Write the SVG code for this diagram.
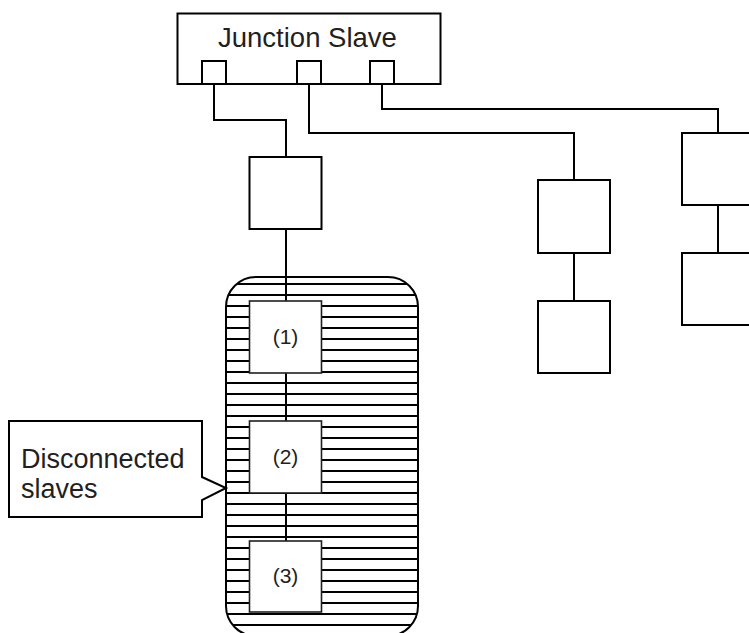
<svg xmlns="http://www.w3.org/2000/svg" width="749" height="633" viewBox="0 0 749 633">
  <defs>
    <style>
      .box { fill: #ffffff; stroke: #000000; stroke-width: 2; }
      .inbox { fill: #ffffff; stroke: #231f20; stroke-width: 1.6; }
      .wire { fill: none; stroke: #000000; stroke-width: 2; }
      .txt { font-family: "Liberation Sans", Arial, Helvetica, sans-serif; fill: #231f20; }
    </style>
    <pattern id="hatch" patternUnits="userSpaceOnUse" x="0" y="0" width="749" height="11">
      <line x1="0" y1="9" x2="749" y2="9" stroke="#000000" stroke-width="2.2"/>
    </pattern>
  </defs>

  <g id="disconnected-area">
    <rect x="226" y="277" width="192" height="359" rx="30" ry="30" fill="url(#hatch)" stroke="#000000" stroke-width="2"/>
  </g>

  <g id="connectors">
    <polyline class="wire" points="214,84 214,120 286,120 286,157"/>
    <polyline class="wire" points="309,84 309,133 574,133 574,180"/>
    <polyline class="wire" points="382,84 382,109 718,109 718,133"/>
    <line class="wire" x1="286" y1="229" x2="286" y2="301"/>
    <line class="wire" x1="286" y1="373" x2="286" y2="421"/>
    <line class="wire" x1="286" y1="493" x2="286" y2="541"/>
    <line class="wire" x1="574" y1="253" x2="574" y2="301"/>
    <line class="wire" x1="718" y1="205" x2="718" y2="253"/>
  </g>

  <g id="junction-slave">
    <rect class="box" x="177.5" y="13.5" width="263" height="70.5"/>
    <rect class="box" x="202" y="61" width="24" height="23"/>
    <rect class="box" x="297" y="61" width="24" height="23"/>
    <rect class="box" x="370" y="61" width="24" height="23"/>
    <text class="txt" x="218" y="47" font-size="27.5">Junction Slave</text>
  </g>

  <g id="node-a">
    <rect class="box" x="249.5" y="157" width="72" height="72"/>
  </g>

  <g id="node-1">
    <rect class="inbox" x="249.5" y="301" width="72" height="72"/>
    <text class="txt" x="285.5" y="344" font-size="21" text-anchor="middle">(1)</text>
  </g>

  <g id="node-2">
    <rect class="inbox" x="249.5" y="421" width="72" height="72"/>
    <text class="txt" x="285.5" y="464" font-size="21" text-anchor="middle">(2)</text>
  </g>

  <g id="node-3">
    <rect class="inbox" x="249.5" y="541" width="72" height="71"/>
    <text class="txt" x="285.5" y="583" font-size="21" text-anchor="middle">(3)</text>
  </g>

  <g id="node-b1">
    <rect class="box" x="538" y="180" width="72" height="73"/>
  </g>
  <g id="node-b2">
    <rect class="box" x="538" y="301" width="72" height="72"/>
  </g>

  <g id="node-c1">
    <rect class="box" x="682" y="133" width="72" height="72"/>
  </g>
  <g id="node-c2">
    <rect class="box" x="682" y="253" width="72" height="72"/>
  </g>

  <g id="callout">
    <path class="box" d="M9,421 H202 V477 L226,488 L202,500 V517 H9 Z"/>
    <text class="txt" x="21" y="468" font-size="27">Disconnected</text>
    <text class="txt" x="21" y="498" font-size="27">slaves</text>
  </g>
</svg>
